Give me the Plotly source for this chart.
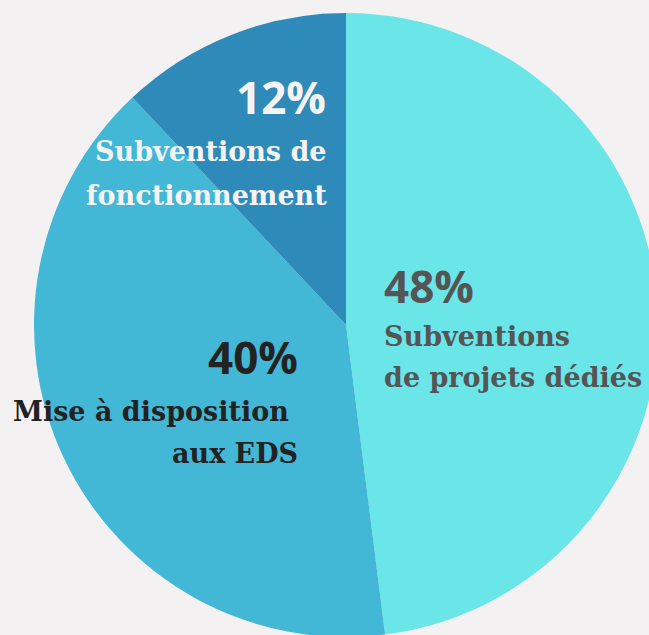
import plotly.graph_objects as go

# data
labels = ["Subventions de projets dédiés", "Mise à disposition aux EDS", "Subventions de fonctionnement"]
values = [48, 40, 12]
colors = ["#6ae5e8", "#42b8d6", "#2e8bb9"]
pct_text = ["48%", "40%", "12%"]

bg = "#f4f1f2"
W, H = 680, 650

fig = go.Figure(data=[go.Pie(labels=labels, values=values, sort=False, direction="clockwise",
                             rotation=0, textinfo="none", hoverinfo="skip",
                             marker=dict(colors=colors, line=dict(width=0)),
                             domain=dict(x=[34 / W, 658 / W], y=[1 - 637 / H, 1 - 13 / H]),
                             showlegend=False)])


def px(x):
    return x / W


def py(y):
    return 1 - y / H


pct_font = "Open Sans"
lab_font = "DejaVu Serif"

# (text, x, y, anchor, font, size, color)
notes = [
    (pct_text[2], 328, 97, "right", pct_font, 44, "#f6f3f4"),
    ("Subventions de", 329, 151, "right", lab_font, 27, "#f6f3f4"),
    ("fonctionnement", 329, 195, "right", lab_font, 27, "#f6f3f4"),
    (pct_text[0], 382, 286, "left", pct_font, 44, "#555555"),
    ("Subventions", 382, 336, "left", lab_font, 27, "#555555"),
    ("de projets dédiés", 382, 377, "left", lab_font, 27, "#555555"),
    (pct_text[1], 300, 357, "right", pct_font, 44, "#222222"),
    ("Mise à disposition", 291, 411, "right", lab_font, 27, "#222222"),
    ("aux EDS", 300, 453, "right", lab_font, 27, "#222222"),
]
for t, x, y, anchor, fnt, size, col in notes:
    fig.add_annotation(text="<b>" + t + "</b>", x=px(x), y=py(y), xref="paper", yref="paper",
                       xanchor=anchor, yanchor="middle", showarrow=False,
                       font=dict(family=fnt, size=size, color=col))

fig.update_layout(width=W, height=H, margin=dict(l=0, r=0, t=0, b=0),
                  paper_bgcolor=bg, plot_bgcolor=bg)

fig.write_html("out.html", config={"displayModeBar": False},
               post_script="document.body.style.margin='0';document.body.style.overflow='hidden';document.documentElement.style.overflow='hidden';document.body.style.background='" + bg + "';")
